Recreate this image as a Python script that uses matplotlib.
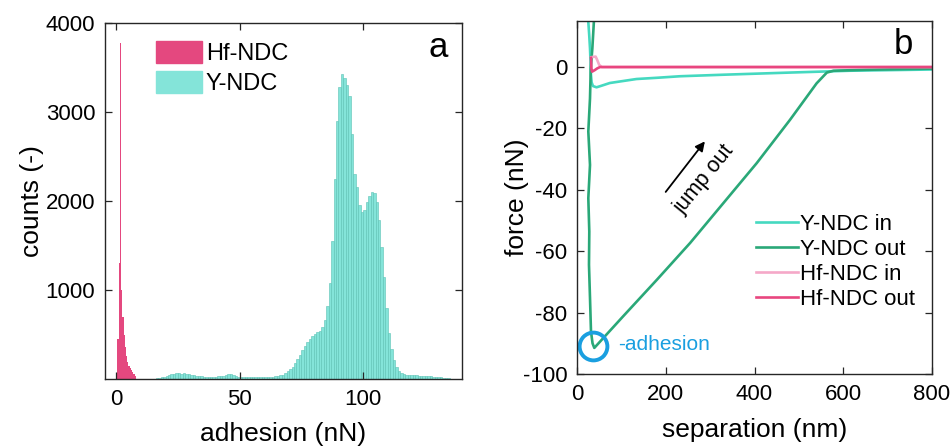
import numpy as np
import matplotlib.pyplot as plt
from matplotlib.patches import Patch

plt.rcParams['font.family'] = ['Liberation Sans', 'DejaVu Sans']
plt.rcParams['axes.unicode_minus'] = False

# ---- panel a: adhesion histograms ----
hf_start, hf_width = 0.5, 0.5
hf_counts = [450, 1300, 3780, 1000, 700, 500, 360, 260, 190, 150, 120, 100, 80, 55, 30]

y_start, y_width = 16, 1
y_counts = [10, 15, 22, 28, 35, 48, 60, 55, 62, 65, 60, 62, 55, 52, 48, 42, 38, 35, 30, 28,
            25, 24, 22, 25, 28, 30, 35, 38, 45, 52, 58, 45, 35, 28, 25, 22, 20, 22, 20, 18,
            18, 20, 22, 20, 22, 25, 24, 28, 30, 35, 40, 50,
            65, 85, 110, 140, 175, 225, 275, 325, 375, 420, 450, 485, 505, 525, 540, 580,
            660, 820, 1080, 1550, 2250, 2900, 3280, 3430, 3380, 3300, 3180, 2750, 2300,
            2160, 1960, 1880, 1900, 1990, 2060, 2100, 2090, 1990, 1790, 1480, 1150, 800,
            520, 340, 210, 135, 90, 68, 56, 50, 46, 44, 42, 40, 38, 37, 35, 34, 32, 30,
            28, 25, 22, 18, 14, 10, 6]

# ---- panel b: force curves ----
yin_sep = [800, 615, 480, 330, 232, 180, 134, 97, 74, 55, 44, 36, 33, 31.5, 30.5, 29.3,
           27.5, 25.5, 24]
yin_force = [-0.8, -1.2, -1.8, -2.5, -3.0, -3.5, -3.9, -4.7, -5.2, -6.1, -6.6, -6.2, -5.0,
             -2.6, 1.5, 6.1, 10.5, 14.7, 18]

yout_sep = [42, 38, 34.6, 31, 29.3, 25.5, 29.3, 25.5, 27.7, 27, 29.3, 31.5, 35, 39,
            104, 180, 255, 330, 405, 480, 540, 563, 578, 650, 800]
yout_force = [17, 14.7, 6.1, -0.4, -10.2, -21, -31.9, -42.7, -53.6, -64.4, -75.2, -86.1,
              -90, -91.5, -81.2, -69.3, -57.3, -44.3, -31.3, -17.2, -5.3, -1.8, -1.2,
              -0.9, -0.5]

hfin_sep = [800, 56, 50, 45, 42, 36, 32]
hfin_force = [0, 0, 0.7, 2.5, 3.4, 3.3, 3.2]

hfout_sep = [31.5, 32.5, 34, 40, 46, 52, 60, 800]
hfout_force = [3.0, -0.5, -1.5, -1.0, -0.4, 0, 0, 0]

adh_point = (37, -91)

c_hf = '#E4487F'
c_y = '#84E4D9'
c_yin = '#45D9C0'
c_yout = '#2AA878'
c_hfin = '#F5A8C8'
c_hfout = '#E8467F'
c_blue = '#1A9FE0'
c_axis = '#262626'

fig = plt.figure(figsize=(9.52, 4.48), dpi=100)
ax1 = fig.add_axes([105/952, 1-379/448, 357/952, 356/448])
ax2 = fig.add_axes([577/952, 1-374/448, 355/952, 353/448])

for ax in (ax1, ax2):
    ax.tick_params(direction='in', length=5, width=0.9, top=True, right=True,
                   labelsize=16, pad=7, color=c_axis)
    for s in ax.spines.values():
        s.set_linewidth(1.0)
        s.set_color(c_axis)

# histogram bars
hf_edges = hf_start + hf_width*np.arange(len(hf_counts) + 1)
y_left = y_start + y_width*np.arange(len(y_counts))
ax1.bar(y_left, y_counts, width=y_width, align='edge', color=c_y,
        edgecolor='#5CC2B5', linewidth=0.4)
ax1.stairs(hf_counts, hf_edges, fill=True, color=c_hf)
ax1.set_xlim(-4.5, 140)
ax1.set_ylim(0, 4000)
ax1.set_xticks([0, 50, 100])
ax1.set_yticks([1000, 2000, 3000, 4000])
ax1.set_xlabel('adhesion (nN)', fontsize=19)
ax1.set_ylabel('counts (-)', fontsize=19)
ax1.xaxis.set_label_coords(0.5, -0.12)
ax1.yaxis.set_label_coords(-0.17, 0.5)
ax1.text(0.961, 0.905, 'a', transform=ax1.transAxes, fontsize=25,
         ha='right', va='baseline')
handles = [Patch(color=c_hf), Patch(color=c_y)]
ax1.legend(handles, ['Hf-NDC', 'Y-NDC'], loc='upper left', bbox_to_anchor=(0.143, 0.949),
           frameon=False, fontsize=17, handlelength=1.95, handleheight=1.05,
           handletextpad=0.15, labelspacing=0.25, borderaxespad=0, borderpad=0)

# force curves
ax2.plot(yin_sep, yin_force, color=c_yin, lw=1.9, label='Y-NDC in')
ax2.plot(yout_sep, yout_force, color=c_yout, lw=1.9, label='Y-NDC out')
ax2.plot(hfin_sep, hfin_force, color=c_hfin, lw=1.9, label='Hf-NDC in')
ax2.plot(hfout_sep, hfout_force, color=c_hfout, lw=1.9, label='Hf-NDC out')
ax2.plot(*adh_point, 'o', ms=20, mfc='none', mec=c_blue, mew=2.8)
ax2.text(92, -90.4, '-adhesion', color=c_blue, fontsize=15, va='center', ha='left')
ax2.annotate('', xy=(292, -23.5), xytext=(196, -41.4),
             arrowprops=dict(arrowstyle='-|>', color='black', lw=1.3,
                             mutation_scale=14))
ax2.text(287, -36.5, 'jump out', rotation=51, fontsize=15.5, ha='center', va='center',
         rotation_mode='anchor')
ax2.set_xlim(0, 800)
ax2.set_ylim(-100, 15)
ax2.set_xticks([0, 200, 400, 600, 800])
ax2.set_yticks([-100, -80, -60, -40, -20, 0])
ax2.set_xlabel('separation (nm)', fontsize=19)
ax2.set_ylabel('force (nN)', fontsize=19)
ax2.xaxis.set_label_coords(0.5, -0.125)
ax2.yaxis.set_label_coords(-0.135, 0.5)
ax2.text(0.946, 0.906, 'b', transform=ax2.transAxes, fontsize=25,
         ha='right', va='baseline')
ax2.legend(loc='upper left', bbox_to_anchor=(0.504, 0.453), frameon=False, fontsize=16,
           handlelength=1.9, handletextpad=0.1, labelspacing=0.18, borderaxespad=0,
           borderpad=0)

fig.savefig('out.png', dpi=100)
